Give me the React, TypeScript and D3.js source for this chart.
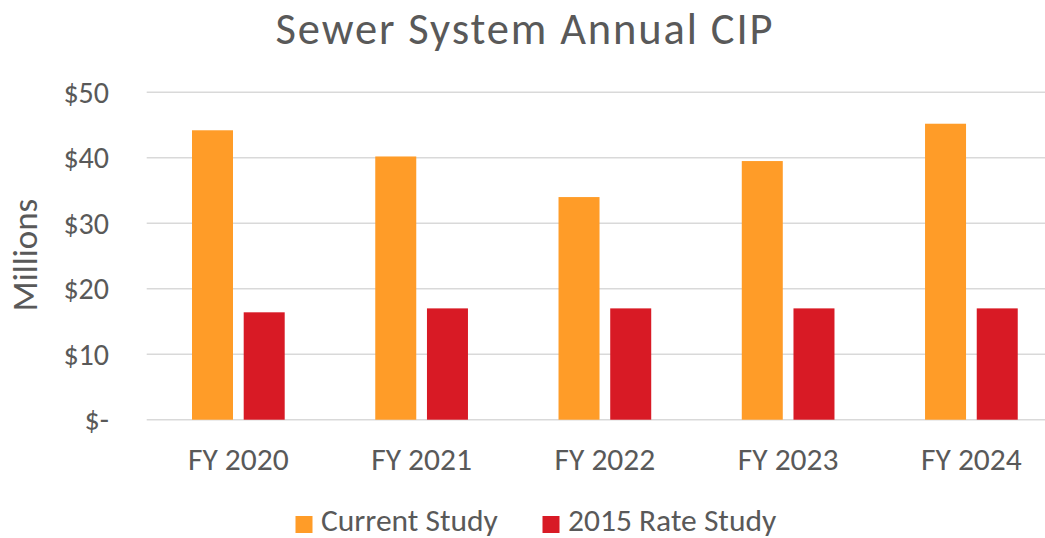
import React from "react";
import * as d3 from "d3";

// chart data
const categories = ["FY 2020", "FY 2021", "FY 2022", "FY 2023", "FY 2024"];
const seriesNames = ["Current Study", "2015 Rate Study"];
const currentStudy = [44.2, 40.2, 34.0, 39.5, 45.2];
const rateStudy2015 = [16.4, 17.0, 17.0, 17.0, 17.0];
const yTicks = [0, 10, 20, 30, 40, 50];

const colors = ["#FF9C28", "#D81A25"];
const textColor = "#595959";
const font = "Carlito, Calibri, Lato, sans-serif";

const W = 1045;
const H = 538;
const plot = { left: 146.7, right: 1063, top: 92.3, bottom: 419.7 };

const fmtTick = (v: number) => (v === 0 ? "$-" : `$${v}`);

export default function App() {
  const x0 = d3.scaleBand().domain(categories).range([plot.left, plot.right]);
  const x1 = d3
    .scaleBand()
    .domain(seriesNames)
    .range([45.3, 138])
    .paddingInner(0.207);
  const y = d3.scaleLinear().domain([0, 50]).range([plot.bottom, plot.top]);

  const values = [currentStudy, rateStudy2015];

  return (
    <svg
      width={W}
      height={H}
      style={{ position: "absolute", left: 0, top: 0, background: "#fff" }}
      fontFamily={font}
    >
      <text
        x={524}
        y={44}
        textAnchor="middle"
        fontSize={44.5}
        textLength={497}
        lengthAdjust="spacing"
        fill={textColor}
      >
        Sewer System Annual CIP
      </text>

      {/* gridlines */}
      {yTicks.map((t) => (
        <line
          key={t}
          x1={plot.left}
          x2={W}
          y1={y(t)}
          y2={y(t)}
          stroke="#D9D9D9"
          strokeWidth={1.5}
        />
      ))}

      {/* y tick labels */}
      {yTicks.map((t) => (
        <text
          key={t}
          x={109}
          y={y(t)}
          dy="0.35em"
          textAnchor="end"
          fontSize={30}
          fill={textColor}
        >
          {fmtTick(t)}
        </text>
      ))}

      <text
        transform={`translate(37,255) rotate(-90)`}
        textAnchor="middle"
        fontSize={35}
        fill={textColor}
      >
        Millions
      </text>

      {/* bars */}
      {categories.map((c, i) => (
        <g key={c} transform={`translate(${x0(c)},0)`}>
          {seriesNames.map((s, j) => (
            <rect
              key={s}
              x={x1(s)}
              y={y(values[j][i])}
              width={x1.bandwidth()}
              height={y(0) - y(values[j][i])}
              fill={colors[j]}
            />
          ))}
        </g>
      ))}

      {/* x labels */}
      {categories.map((c) => (
        <text
          key={c}
          x={(x0(c) as number) + x0.bandwidth() / 2}
          y={470}
          textAnchor="middle"
          fontSize={31.5}
          fill={textColor}
        >
          {c}
        </text>
      ))}

      {/* legend */}
      {seriesNames.map((s, j) => {
        const lx = [295.5, 542.5][j];
        return (
          <g key={s} transform={`translate(${lx},516)`}>
            <rect width={17} height={17} fill={colors[j]} />
            <text x={25.5} y={15} fontSize={31.5} fill={textColor}>
              {s}
            </text>
          </g>
        );
      })}
    </svg>
  );
}
